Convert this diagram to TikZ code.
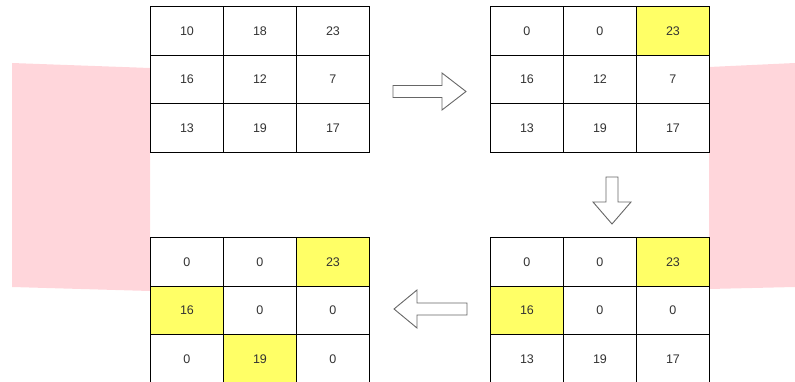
\documentclass[tikz,border=0pt]{standalone}
\usepackage{fontspec}
\setmainfont{Liberation Sans}
\usetikzlibrary{positioning}
\definecolor{cellyellow}{RGB}{255,255,102}
\definecolor{bandpink}{RGB}{255,214,219}

\begin{document}
\begin{tikzpicture}[
  x=1pt, y=-1pt,
  font=\fontsize{12.5}{15}\selectfont,
  cell/.style={draw=black, line width=0.9pt, minimum width=73pt, minimum height=48.7pt, inner sep=0pt, text=black!80, anchor=north west},
  band/.style={fill=bandpink, draw=none},
  blockarrow/.style={draw=black!60, fill=white, line width=0.9pt, line join=miter}
]
  \useasboundingbox (0,0) rectangle (795,382);
  % faded bands behind the grids
  \fill[band] (12,63) -- (150,68) -- (150,291) -- (12,287) -- cycle;
  \fill[band] (709,67) -- (795,63) -- (795,287) -- (709,289) -- cycle;

  % grid a: input
  \foreach \r/\c/\v/\f in {0/0/10/white, 0/1/18/white, 0/2/23/white,
                           1/0/16/white, 1/1/12/white, 1/2/7/white,
                           2/0/13/white, 2/1/19/white, 2/2/17/white}
    \node[cell, fill=\f] (a-\r-\c) at (150+73*\c, 6+48.7*\r) {\v};
  % grid b: first row kept
  \foreach \r/\c/\v/\f in {0/0/0/white, 0/1/0/white, 0/2/23/cellyellow,
                           1/0/16/white, 1/1/12/white, 1/2/7/white,
                           2/0/13/white, 2/1/19/white, 2/2/17/white}
    \node[cell, fill=\f] (b-\r-\c) at (490+73*\c, 6+48.7*\r) {\v};
  % grid c: second row kept
  \foreach \r/\c/\v/\f in {0/0/0/white, 0/1/0/white, 0/2/23/cellyellow,
                           1/0/16/cellyellow, 1/1/0/white, 1/2/0/white,
                           2/0/13/white, 2/1/19/white, 2/2/17/white}
    \node[cell, fill=\f] (c-\r-\c) at (490+73*\c, 237+48.7*\r) {\v};
  % grid d: result
  \foreach \r/\c/\v/\f in {0/0/0/white, 0/1/0/white, 0/2/23/cellyellow,
                           1/0/16/cellyellow, 1/1/0/white, 1/2/0/white,
                           2/0/0/white, 2/1/19/cellyellow, 2/2/0/white}
    \node[cell, fill=\f] (d-\r-\c) at (150+73*\c, 237+48.7*\r) {\v};

  % block arrows between the steps
  \draw[blockarrow] (393,85.5) -- (442,85.5) -- (442,73) -- (466,91.5) -- (442,110) -- (442,97.5) -- (393,97.5) -- cycle;
  \draw[blockarrow] (606,177) -- (618,177) -- (618,202) -- (631,202) -- (612,224) -- (593,202) -- (606,202) -- cycle;
  \draw[blockarrow] (467,303) -- (417,303) -- (417,290) -- (394,309) -- (417,328) -- (417,315) -- (467,315) -- cycle;
\end{tikzpicture}
\end{document}
